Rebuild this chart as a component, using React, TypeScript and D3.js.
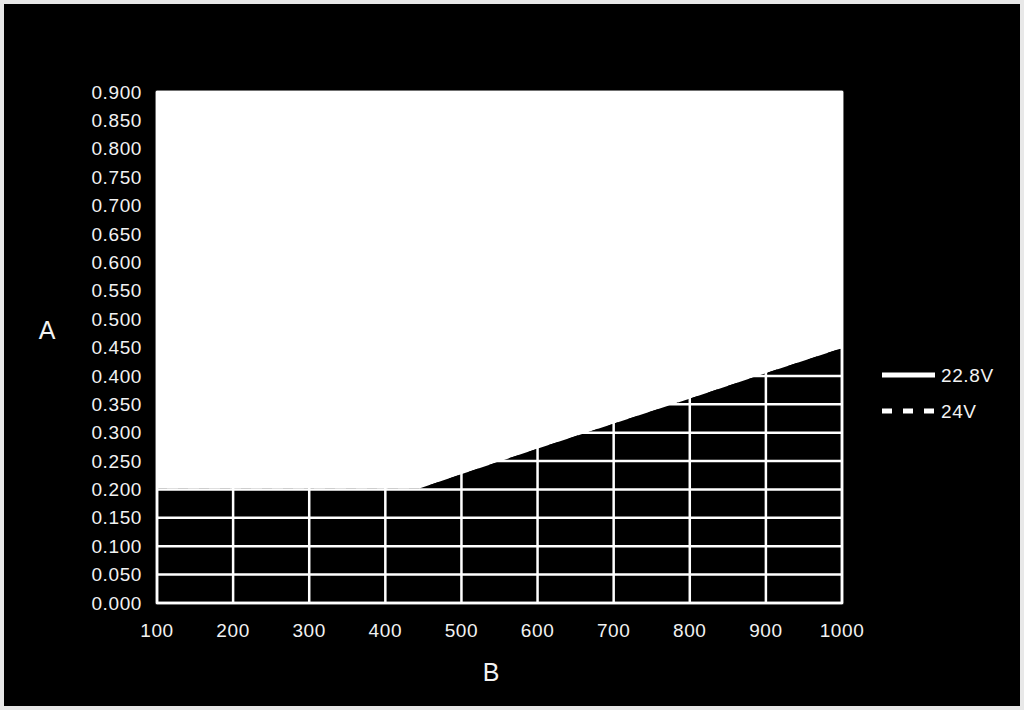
import React from "react";
import * as d3 from "d3";

const xTicks = [100, 200, 300, 400, 500, 600, 700, 800, 900, 1000];
const yTicks = [0, 0.05, 0.1, 0.15, 0.2, 0.25, 0.3, 0.35, 0.4, 0.45, 0.5, 0.55, 0.6, 0.65, 0.7, 0.75, 0.8, 0.85, 0.9];
const xValues = [100, 200, 300, 400, 445, 500, 600, 700, 800, 900, 1000];
const series228 = [0.2, 0.2, 0.2, 0.2, 0.2, 0.225, 0.27, 0.314, 0.358, 0.403, 0.447];
const series24 = [0.2, 0.2, 0.2, 0.2, 0.2, 0.225, 0.27, 0.314, 0.358, 0.403, 0.447];
const seriesNames = ["22.8V", "24V"];
const xTitle = "B";
const yTitle = "A";

export default function App() {
  const W = 1024, H = 710;
  const left = 157, right = 842, top = 92, bottom = 603;
  const x = d3.scaleLinear().domain([100, 1000]).range([left, right]);
  const y = d3.scaleLinear().domain([0, 0.9]).range([bottom, top]);
  const font = "'Liberation Sans', Arial, sans-serif";

  const area = d3.area<number>()
    .x((_, i) => x(xValues[i]))
    .y0(y(0))
    .y1((d) => y(d));
  const line = d3.line<number>()
    .x((_, i) => x(xValues[i]))
    .y((d) => y(d));

  return (
    <svg width={W} height={H} style={{ position: "absolute", left: 0, top: 0 }} fontFamily={font}>
      <rect x={0} y={0} width={W} height={H} fill="#e8e8e8" />
      <rect x={4} y={4} width={1016} height={702} fill="#000" />
      <rect x={left} y={top} width={right - left} height={bottom - top} fill="#fff" />
      <path d={area(series228) || ""} fill="#000" />
      <path d={line(series24) || ""} fill="none" stroke="#000" strokeWidth={2} strokeDasharray="10,11" />
      <path d={line(series228) || ""} fill="none" stroke="#000" strokeWidth={2} />
      {yTicks.map((t) => (
        <line key={"h" + t} x1={left} x2={right} y1={y(t)} y2={y(t)} stroke="#fff" strokeWidth={2.5} />
      ))}
      {xTicks.map((t) => (
        <line key={"v" + t} x1={x(t)} x2={x(t)} y1={top} y2={bottom} stroke="#fff" strokeWidth={2.5} />
      ))}
      <rect x={left} y={top} width={right - left} height={bottom - top} fill="none" stroke="#fff" strokeWidth={2.5} />
      {yTicks.map((t) => (
        <text key={"yl" + t} x={142} y={y(t)} dy="0.35em" textAnchor="end" fill="#f2f2f2" fontSize={19} letterSpacing={0.6}>
          {t.toFixed(3)}
        </text>
      ))}
      {xTicks.map((t) => (
        <text key={"xl" + t} x={x(t)} y={630} dy="0.35em" textAnchor="middle" fill="#f2f2f2" fontSize={19} letterSpacing={0.6}>
          {t}
        </text>
      ))}
      <text x={47} y={330} dy="0.35em" textAnchor="middle" fill="#f2f2f2" fontSize={25}>{yTitle}</text>
      <text x={491} y={672} dy="0.35em" textAnchor="middle" fill="#f2f2f2" fontSize={25}>{xTitle}</text>
      <line x1={882} x2={935} y1={375} y2={375} stroke="#fff" strokeWidth={5} />
      <text x={941} y={375} dy="0.35em" fill="#f2f2f2" fontSize={19} letterSpacing={0.6}>{seriesNames[0]}</text>
      <line x1={882} x2={935} y1={411} y2={411} stroke="#fff" strokeWidth={5} strokeDasharray="10,11" />
      <text x={941} y={411} dy="0.35em" fill="#f2f2f2" fontSize={19} letterSpacing={0.6}>{seriesNames[1]}</text>
    </svg>
  );
}
